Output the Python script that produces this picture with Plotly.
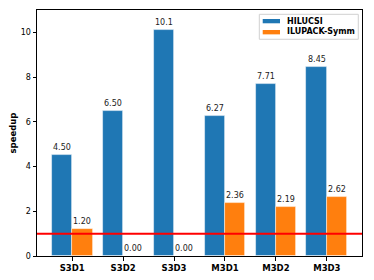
import plotly.graph_objects as go

categories = ["S3D1", "S3D2", "S3D3", "M3D1", "M3D2", "M3D3"]
hilucsi = [4.50, 6.50, 10.1, 6.27, 7.71, 8.45]
ilupack = [1.20, 0.00, 0.00, 2.36, 2.19, 2.62]
series_names = ["HILUCSI", "ILUPACK-Symm"]
colors = ["#1f77b4", "#ff7f0e"]
ytick_vals = [0, 2, 4, 6, 8, 10]

def fmt(v):
    return f"{v:.1f}" if v >= 10 else f"{v:.2f}"

xs = list(range(len(categories)))
bw = 0.4
fig = go.Figure()
annotations = []
shapes = []
for k, (name, vals, col) in enumerate(zip(series_names, [hilucsi, ilupack], colors)):
    off = -bw / 2 if k == 0 else bw / 2
    xpos = [x + off for x in xs]
    fig.add_trace(go.Bar(
        x=xpos, y=vals, width=bw, name=name, showlegend=False,
        marker=dict(color=col, line=dict(color="rgba(255,255,255,0.6)", width=0.8)),
    ))
    for xp, v in zip(xpos, vals):
        annotations.append(dict(
            x=xp, y=v, text=fmt(v), showarrow=False, yanchor="bottom", yshift=1,
            font=dict(family="DejaVu Sans", size=8, color="#222"),
        ))

# reference line at speedup = 1
shapes.append(dict(type="line", xref="paper", x0=0, x1=1, y0=1, y1=1,
                   line=dict(color="red", width=2), layer="above"))

# legend box (matplotlib style)
shapes.append(dict(type="rect", xref="paper", yref="paper",
                   x0=0.684, x1=0.9886, y0=0.881, y1=0.9825,
                   fillcolor="rgba(255,255,255,0.85)", line=dict(color="#d0d0d0", width=1),
                   layer="above"))
leg_rows = [(0.946, 0.9634, 0.955), (0.901, 0.9187, 0.9106)]
for (name, col), (ya, yb, yt) in zip(zip(series_names, colors), leg_rows):
    shapes.append(dict(type="rect", xref="paper", yref="paper",
                       x0=0.6945, x1=0.7477, y0=ya, y1=yb,
                       fillcolor=col, line=dict(width=0), layer="above"))
    annotations.append(dict(xref="paper", yref="paper", x=0.762, y=yt, text=name,
                            showarrow=False, xanchor="left", yanchor="middle",
                            font=dict(family="DejaVu Sans", size=8, color="black",
                                      weight="bold")))

# The page body has an 8px margin, so the figure is sized to fit inside it.
fig.update_layout(
    width=358, height=264,
    margin=dict(l=29, r=4, t=2, b=16, pad=0, autoexpand=False),
    plot_bgcolor="white", paper_bgcolor="white",
    bargap=0, barmode="overlay",
    font=dict(family="DejaVu Sans", size=8, color="black"),
    annotations=annotations,
    shapes=shapes,
    showlegend=False,
    xaxis=dict(
        range=[-0.69, 5.69], tickmode="array", tickvals=xs, ticktext=categories,
        showline=True, linecolor="black", linewidth=1, mirror=True,
        ticks="outside", ticklen=3.5, tickcolor="black", showgrid=False, zeroline=False,
        tickfont=dict(family="DejaVu Sans", size=8.5, weight="bold", color="black"),
    ),
    yaxis=dict(
        range=[0, 11.0], tickmode="array", tickvals=ytick_vals,
        showline=True, linecolor="black", linewidth=1, mirror=True,
        ticks="outside", ticklen=3.5, tickcolor="black", showgrid=False, zeroline=False,
        tickfont=dict(family="DejaVu Sans", size=8, color="black"),
        title=dict(text="speedup", standoff=6,
                   font=dict(family="DejaVu Sans", size=8.5, weight="bold", color="black")),
    ),
)

fig.write_html("out.html")
